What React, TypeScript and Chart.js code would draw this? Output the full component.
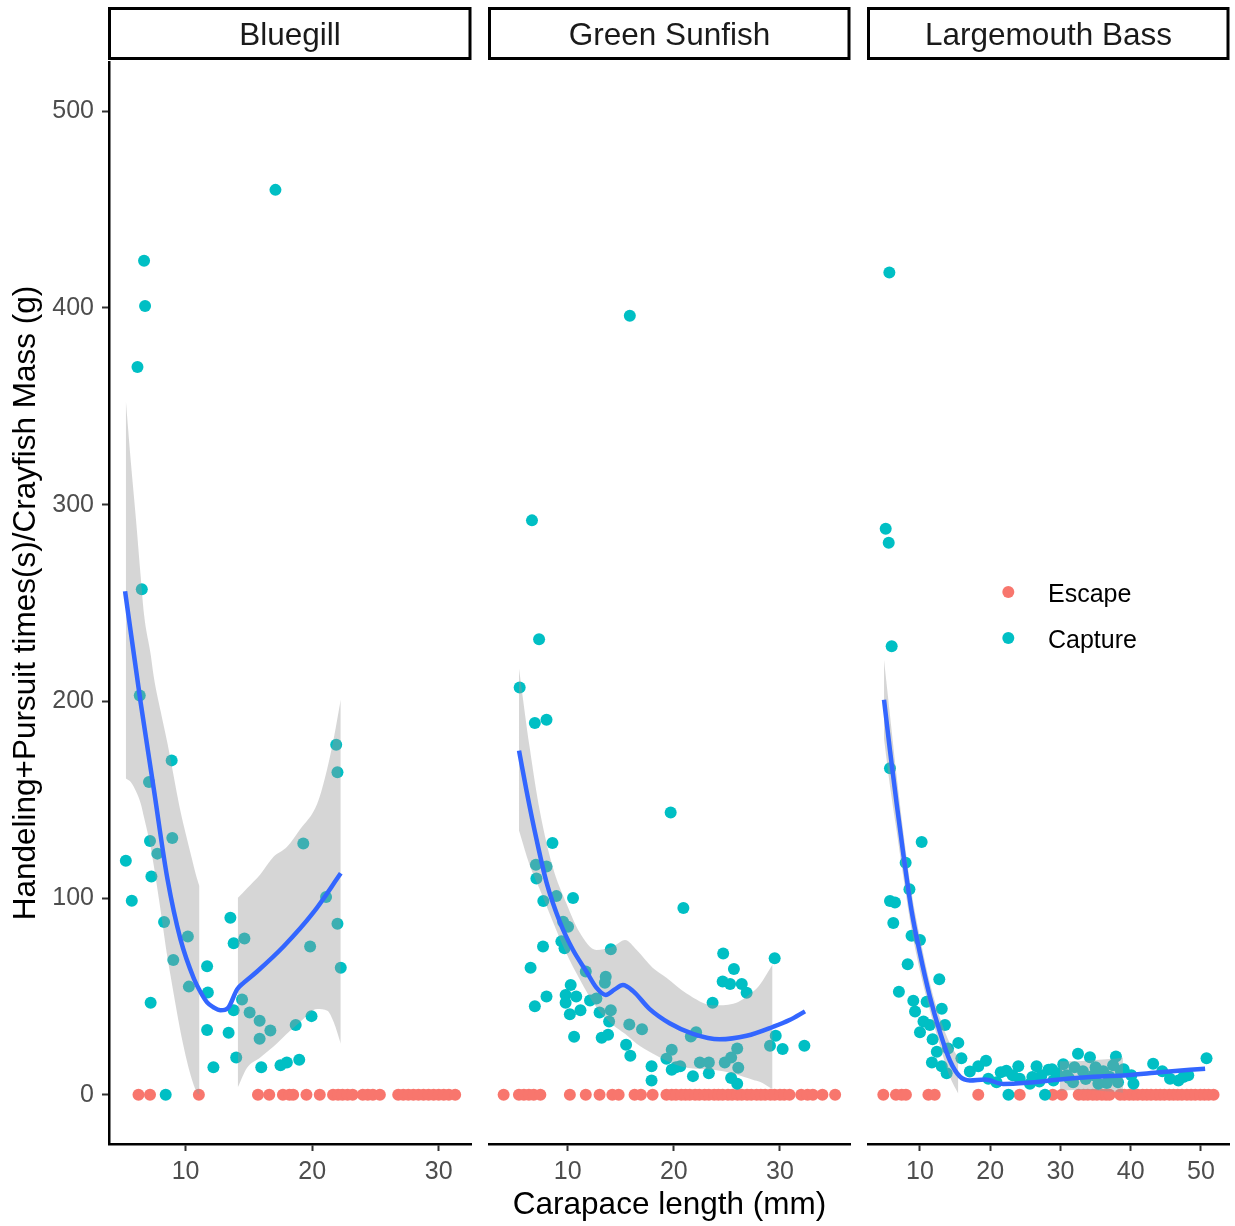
import React, { useEffect, useRef } from "react";
import { Chart, registerables } from "chart.js";

Chart.register(...registerables);

const FONT = '"Liberation Sans", Arial, Helvetica, sans-serif';
const ESCAPE_COLOR = "#F8766D";
const CAPTURE_COLOR = "#00BFC4";
const LINE_COLOR = "#3366FF";
const BAND_COLOR = "rgba(153,153,153,0.4)";

// ---------- labels ----------
const panelTitles = ["Bluegill", "Green Sunfish", "Largemouth Bass"];
const legendLabels = ["Escape", "Capture"];
const yTitle = "Handeling+Pursuit times(s)/Crayfish Mass (g)";
const xTitle = "Carapace length (mm)";
const yTicks = [0, 100, 200, 300, 400, 500];
const xTicksBluegill = [10, 20, 30];
const xTicksSunfish = [10, 20, 30];
const xTicksBass = [10, 20, 30, 40, 50];
const escapeValue = 0;

// ---------- Bluegill ----------
const bgCaptureX = [17.1, 6.72, 6.8, 6.2, 6.54, 6.38, 8.9, 7.11, 7.19, 8.95, 7.77, 5.28, 7.3, 5.75, 8.3, 10.18, 9.03, 7.24, 10.26, 11.7, 11.76, 13.54, 13.8, 14.65, 14.46, 13.8, 11.7, 13.4, 12.2, 14.0, 15.06, 15.85, 16.7, 15.85, 15.98, 17.5, 18.0, 18.98, 18.7, 19.95, 19.3, 21.1, 19.84, 21.9, 22.0, 22.0, 22.26, 8.43];
const bgCaptureY = [460, 424, 401, 370, 257, 203, 170, 159, 129, 130.5, 122.6, 119, 111, 98.7, 87.8, 80.5, 68.5, 46.8, 55, 65.4, 52, 90, 77, 79.5, 48.5, 43, 33, 31.5, 14, 19, 41.8, 37.6, 32.7, 28.5, 14, 15, 16.4, 17.8, 35.5, 40, 127.7, 100.5, 75.4, 178, 164, 87, 64.6, 0];
const bgEscapeX = [6.28, 7.19, 11.05, 15.72, 16.61, 17.69, 18.2, 18.5, 19.55, 20.6, 21.65, 22.05, 22.4, 22.8, 23.2, 24.0, 24.4, 24.8, 25.35, 26.8, 27.2, 27.6, 28.0, 28.4, 28.8, 29.2, 29.6, 30.0, 30.4, 30.8, 31.3];
const bgLineX = [5.22, 6.46, 7.5, 8.56, 9.6, 10.66, 11.2, 11.7, 12.2, 12.76, 13.1, 13.4, 14.07, 14.6, 15.65, 17.74, 20.1, 22.26];
const bgLineY = [256, 199, 155, 110, 79, 59, 52, 47, 44.5, 43, 43.2, 44.5, 53.6, 57, 62.7, 75.4, 92.7, 112.6];
const bgBandX = [5.28, 5.67, 6.1, 6.46, 6.72, 7.24, 7.5, 8.03, 8.56, 8.8, 9.6, 10.0, 10.4, 10.9, 11.1, 12.5, 14.12, 14.86, 15.9, 16.95, 18.0, 19.05, 20.4, 21.2, 21.7, 22.26];
const bgBandLo = [160.8, 159, 154, 148, 141, 126, 116, 93.6, 70, 61, 32, 20, 10, 1, 0, null, 3.7, 13.7, 19, 24.5, 31, 37, 43.6, 42.7, 37, 26];
const bgBandHi = [353, 322, 291, 263, 244, 224, 212, 195, 179, 171, 144, 133, 122.6, 110, 106, null, 100, 105, 112, 121, 126, 135, 148, 166, 181, 201];

// ---------- Green Sunfish ----------
const gsCaptureX = [15.85, 6.63, 7.3, 5.47, 6.9, 8.0, 19.7, 20.9, 8.56, 7.0, 8.0, 7.05, 7.7, 8.93, 10.5, 9.56, 10.03, 7.67, 9.4, 9.7, 6.5, 14.06, 11.7, 10.28, 13.58, 13.5, 8.0, 6.9, 9.8, 9.8, 10.8, 12.1, 12.7, 10.2, 11.2, 13.0, 14.06, 13.9, 15.8, 17.0, 10.6, 13.2, 13.8, 15.5, 15.9, 17.9, 17.9, 19.3, 19.8, 19.8, 20.2, 20.6, 21.8, 22.1, 21.6, 22.45, 23.3, 23.3, 23.65, 24.65, 25.66, 24.6, 25.3, 26.4, 26.86, 24.8, 25.4, 25.97, 26.07, 25.4, 25.97, 29.5, 29.6, 29.06, 30.25, 32.3];
const gsCaptureY = [396, 292, 231.6, 207, 189, 190.6, 143.5, 95, 128, 117, 116, 110, 98.5, 101, 100, 88, 85.4, 75.4, 78, 74.5, 64.6, 74, 62.7, 55.8, 60, 57, 50, 45, 50.8, 46.8, 50, 48, 49, 41, 43, 41.8, 43, 37.3, 35.8, 33.3, 29.5, 29, 30.5, 25.4, 19.8, 14.5, 7.3, 18.3, 22.9, 12.7, 14, 14.5, 9.5, 31.8, 29.6, 16.4, 16.4, 11, 46.8, 71.8, 64, 57.6, 56.3, 56.3, 51.9, 16.4, 19, 23.6, 13.7, 8.6, 5.6, 69.4, 30, 25, 23.3, 25];
const gsEscapeX = [3.96, 5.4, 5.87, 6.34, 6.8, 7.42, 10.2, 11.7, 13.0, 14.2, 14.8, 16.3, 16.9, 18.0, 19.3, 19.8, 20.2, 20.7, 21.1, 21.5, 22.0, 22.4, 22.9, 23.3, 23.8, 24.2, 24.6, 25.1, 25.5, 26.0, 26.4, 26.9, 27.3, 27.8, 28.2, 28.6, 29.1, 29.5, 30.0, 30.4, 30.9, 32.0, 32.6, 33.1, 34.0, 35.2];
const gsLineX = [5.41, 6.1, 7.05, 8.0, 9.25, 10.5, 11.76, 12.7, 13.58, 14.43, 15.2, 16.16, 17.7, 19.6, 21.8, 24.3, 26.86, 29.37, 30.9, 32.36];
const gsLineY = [175, 155, 130, 108, 88, 73.6, 62.7, 54.5, 50.8, 53.6, 55.8, 52.7, 43.7, 36.4, 31, 28.2, 30, 34.6, 38, 42.4];
const gsBandX = [5.4, 6.4, 7.36, 8.6, 9.88, 11.1, 12.7, 14.27, 15.4, 16.5, 18.0, 19.3, 21.2, 23.7, 25.6, 27.5, 28.1, 29.3];
const gsBandLo = [134.5, 117, 104.5, 88, 71.8, 59, 44.5, 35.5, 31, 26, 21, 17.3, 13.7, 12.7, 10.8, 7.5, 6.6, 2.8];
const gsBandHi = [217, 177, 144.5, 115.5, 97.2, 82.7, 73.6, 75.4, 78.7, 73.6, 64.6, 59.5, 51.5, 45.5, 46.3, 52.7, 56, 66.3];

// ---------- Largemouth Bass ----------
const lmCaptureX = [5.64, 5.12, 5.55, 5.97, 5.73, 10.24, 7.96, 8.5, 5.73, 6.44, 6.2, 8.8, 10.0, 8.25, 12.75, 7.0, 9.05, 10.95, 13.1, 9.3, 10.5, 11.4, 13.56, 10.0, 11.8, 15.46, 12.4, 14.0, 15.9, 11.7, 13.1, 13.8, 17.1, 18.3, 19.4, 19.73, 20.9, 22.3, 22.6, 24.0, 24.2, 25.66, 26.6, 27.3, 27.8, 28.3, 29.0, 30.4, 30.9, 31.8, 32.5, 33.2, 34.2, 34.7, 35.4, 36.1, 37.0, 37.9, 38.2, 40.1, 40.4, 43.2, 45.6, 46.8, 48.2, 50.8, 26.0, 28.8, 29.5, 31.2, 32.0, 33.6, 35.0, 36.6, 37.5, 38.6, 23.2, 21.5, 27.0, 39.0, 44.5, 47.5];
const lmCaptureY = [418, 287.7, 280.6, 228, 166, 128.5, 118, 104.5, 98.5, 97.7, 87.3, 80.9, 78.7, 66.4, 58.7, 52.4, 47.8, 47.3, 43.7, 42.4, 37.3, 35.5, 35.5, 31.8, 28.2, 26.4, 21.9, 23.6, 18.6, 16.4, 14.5, 11, 11.8, 14.5, 17.3, 8.2, 6.4, 12.2, 0, 14.5, 8.2, 5.6, 14.5, 10, 0, 12.7, 7.3, 15.5, 10, 6.4, 20.9, 12, 19.1, 10, 5.6, 12, 9.2, 19.5, 6.4, 10, 5.6, 15.8, 8.2, 7.3, 10, 18.6, 9, 13, 11, 8.5, 14, 8, 14, 6, 15, 12, 10, 11.5, 6.8, 13, 12, 9];
const lmEscapeX = [4.78, 6.58, 7.39, 8.0, 11.2, 12.1, 18.3, 24.2, 28.9, 30.2, 32.6, 33.3, 33.9, 34.6, 35.2, 35.9, 36.5, 37.0, 38.5, 39.1, 39.8, 40.4, 41.0, 41.7, 42.3, 42.9, 43.6, 44.2, 44.8, 45.5, 46.1, 46.7, 47.3, 48.0, 48.6, 49.2, 49.9, 50.5, 51.1, 51.8];
const lmLineX = [4.88, 5.73, 6.68, 7.62, 8.8, 10.0, 11.4, 12.85, 14.27, 15.7, 17.1, 19.25, 21.86, 25.2, 29.9, 34.7, 39.4, 44.2, 50.6];
const lmLineY = [200.8, 175, 148, 122.6, 93.6, 71.8, 50, 31.8, 17.3, 9.2, 7.3, 7.8, 5.5, 6.1, 7.8, 9.2, 10, 11.5, 13.3];
const lmBandX = [4.88, 5.73, 6.68, 7.62, 8.8, 10.0, 11.4, 12.85, 14.27, 15.46, 22.0, 29.9, 32.0, 34.0, 36.0, 38.0, 38.9];
const lmBandLo = [181, 157, 134, 111, 84, 63, 43, 25, 9, 0.5, null, 2, 2.5, 2.5, 2, 1.5, 1];
const lmBandHi = [221, 193, 162, 134, 103, 80, 57, 39, 26, 19, null, 17, 17, 17.5, 18, 18.5, 19];

type Panel = {
  title: string;
  capX: number[]; capY: number[]; escX: number[];
  lineX: number[]; lineY: number[];
  bandX: number[]; bandLo: (number | null)[]; bandHi: (number | null)[];
  xMin: number; xMax: number; xTicks: number[];
  left: number; width: number; padLeft: number; padRight: number;
  showY: boolean; showXTitle: boolean; showLegend: boolean;
};

const panels: Panel[] = [
  { title: panelTitles[0], capX: bgCaptureX, capY: bgCaptureY, escX: bgEscapeX, lineX: bgLineX, lineY: bgLineY, bandX: bgBandX, bandLo: bgBandLo, bandHi: bgBandHi, xMin: 3.95, xMax: 32.55, xTicks: xTicksBluegill, left: 0, width: 480, padLeft: 0, padRight: 9, showY: true, showXTitle: false, showLegend: false },
  { title: panelTitles[1], capX: gsCaptureX, capY: gsCaptureY, escX: gsEscapeX, lineX: gsLineX, lineY: gsLineY, bandX: gsBandX, bandLo: gsBandLo, bandHi: gsBandHi, xMin: 2.58, xMax: 36.6, xTicks: xTicksSunfish, left: 480, width: 380, padLeft: 9, padRight: 10, showY: false, showXTitle: true, showLegend: false },
  { title: panelTitles[2], capX: lmCaptureX, capY: lmCaptureY, escX: lmEscapeX, lineX: lmLineX, lineY: lmLineY, bandX: lmBandX, bandLo: lmBandLo, bandHi: lmBandHi, xMin: 2.6, xMax: 54, xTicks: xTicksBass, left: 860, width: 375, padLeft: 8, padRight: 6, showY: false, showXTitle: false, showLegend: true },
];

function bandPieces(xs: number[], lo: (number | null)[], hi: (number | null)[]) {
  const pieces: { lo: { x: number; y: number }[]; hi: { x: number; y: number }[] }[] = [];
  let cur: any = null;
  xs.forEach((x, i) => {
    if (lo[i] == null || hi[i] == null) { cur = null; return; }
    if (!cur) { cur = { lo: [], hi: [] }; pieces.push(cur); }
    cur.lo.push({ x, y: lo[i] });
    cur.hi.push({ x, y: hi[i] });
  });
  return pieces;
}

const stripPlugin = {
  id: "strip",
  afterDraw(chart: any, _args: any, opts: any) {
    const { ctx, chartArea } = chart;
    ctx.save();
    const lw = 3;
    const x0 = chartArea.left - 1;
    const x1 = chartArea.right + 0.5;
    const y0 = 7;
    const y1 = 60;
    ctx.fillStyle = "#FFFFFF";
    ctx.fillRect(x0, y0, x1 - x0, y1 - y0);
    ctx.strokeStyle = "#000000";
    ctx.lineWidth = lw;
    ctx.strokeRect(x0 + lw / 2, y0 + lw / 2, x1 - x0 - lw, y1 - y0 - lw);
    ctx.fillStyle = "#1A1A1A";
    ctx.font = `31.5px ${FONT}`;
    ctx.textAlign = "center";
    ctx.textBaseline = "alphabetic";
    ctx.fillText(opts.text, (chartArea.left + chartArea.right) / 2, 45);
    ctx.restore();
  },
};

const legendPlugin = {
  id: "facetLegend",
  afterDraw(chart: any, _args: any, opts: any) {
    if (!opts.show) return;
    const { ctx } = chart;
    const items = [
      { label: legendLabels[0], color: ESCAPE_COLOR, cy: 592, base: 602 },
      { label: legendLabels[1], color: CAPTURE_COLOR, cy: 638, base: 647.5 },
    ];
    ctx.save();
    items.forEach((it) => {
      ctx.beginPath();
      ctx.fillStyle = it.color;
      ctx.arc(1008.3 - opts.offsetX, it.cy, 6, 0, Math.PI * 2);
      ctx.fill();
      ctx.fillStyle = "#000000";
      ctx.font = `25px ${FONT}`;
      ctx.textAlign = "left";
      ctx.textBaseline = "alphabetic";
      ctx.fillText(it.label, 1048 - opts.offsetX, it.base);
    });
    ctx.restore();
  },
};

function buildConfig(p: Panel): any {
  const datasets: any[] = [];
  datasets.push({
    label: "smooth",
    data: p.lineX.map((x, i) => ({ x, y: p.lineY[i] })),
    showLine: true,
    borderColor: LINE_COLOR,
    borderWidth: 4.5,
    pointRadius: 0,
    cubicInterpolationMode: "monotone",
    fill: false,
    order: 0,
  });
  bandPieces(p.bandX, p.bandLo, p.bandHi).forEach((piece) => {
    datasets.push({
      label: "band-hi",
      data: piece.hi,
      showLine: true,
      borderWidth: 0,
      borderColor: "rgba(0,0,0,0)",
      backgroundColor: BAND_COLOR,
      pointRadius: 0,
      cubicInterpolationMode: "monotone",
      fill: "+1",
      order: 1,
    });
    datasets.push({
      label: "band-lo",
      data: piece.lo,
      showLine: true,
      borderWidth: 0,
      borderColor: "rgba(0,0,0,0)",
      backgroundColor: "rgba(0,0,0,0)",
      pointRadius: 0,
      cubicInterpolationMode: "monotone",
      fill: false,
      order: 1,
    });
  });
  datasets.push({
    label: legendLabels[1],
    data: p.capX.map((x, i) => ({ x, y: p.capY[i] })),
    pointRadius: 6,
    pointBorderWidth: 0,
    backgroundColor: CAPTURE_COLOR,
    borderColor: CAPTURE_COLOR,
    order: 2,
  });
  datasets.push({
    label: legendLabels[0],
    data: p.escX.map((x) => ({ x, y: escapeValue })),
    pointRadius: 6,
    pointBorderWidth: 0,
    backgroundColor: ESCAPE_COLOR,
    borderColor: ESCAPE_COLOR,
    order: 3,
  });

  const tickFont = { family: FONT, size: 25 };
  return {
    type: "scatter",
    data: { datasets },
    plugins: [stripPlugin, legendPlugin],
    options: {
      animation: false,
      responsive: false,
      devicePixelRatio: 1,
      events: [],
      layout: { padding: { left: p.padLeft, right: p.padRight, top: 62, bottom: 0 } },
      plugins: {
        legend: { display: false },
        tooltip: { enabled: false },
        strip: { text: p.title },
        facetLegend: { show: p.showLegend, offsetX: p.left },
      },
      scales: {
        x: {
          type: "linear",
          position: "bottom",
          min: p.xMin,
          max: p.xMax,
          afterBuildTicks: (s: any) => { s.ticks = p.xTicks.map((v) => ({ value: v })); },
          afterFit: (s: any) => { s.height = 82; },
          grid: { drawOnChartArea: false, drawTicks: true, tickLength: 7, tickColor: "#333333", tickWidth: 2 },
          border: { display: true, color: "#000000", width: 2.5 },
          ticks: { color: "#4D4D4D", font: tickFont, padding: 6, maxRotation: 0, autoSkip: false },
          title: {
            display: p.showXTitle,
            text: xTitle,
            color: "#000000",
            font: { family: FONT, size: 31.5 },
            padding: { top: 0, bottom: 2 },
          },
        },
        y: {
          type: "linear",
          position: "left",
          display: p.showY,
          min: -25,
          max: 525,
          afterBuildTicks: (s: any) => { s.ticks = yTicks.map((v) => ({ value: v })); },
          afterFit: (s: any) => { s.width = p.showY ? 109 : 0; },
          grid: { drawOnChartArea: false, drawTicks: true, tickLength: 7, tickColor: "#333333", tickWidth: 2 },
          border: { display: true, color: "#000000", width: 2.5 },
          ticks: { color: "#4D4D4D", font: tickFont, padding: 8 },
          title: {
            display: p.showY,
            text: yTitle,
            color: "#000000",
            font: { family: FONT, size: 31.5 },
            padding: { top: 7, bottom: 0 },
          },
        },
      },
    },
  };
}

function FacetPanel({ p }: { p: Panel }) {
  const ref = useRef<HTMLCanvasElement | null>(null);
  useEffect(() => {
    if (!ref.current) return;
    const chart = new Chart(ref.current, buildConfig(p));
    return () => chart.destroy();
  }, [p]);
  return (
    <canvas
      ref={ref}
      width={p.width}
      height={1226}
      style={{ position: "absolute", left: p.left, top: 0, width: p.width, height: 1226 }}
    />
  );
}

export default function App() {
  return (
    <div style={{ position: "absolute", left: 0, top: 0, width: 1235, height: 1226, background: "#FFFFFF", overflow: "hidden" }}>
      {panels.map((p) => (
        <FacetPanel key={p.title} p={p} />
      ))}
    </div>
  );
}
